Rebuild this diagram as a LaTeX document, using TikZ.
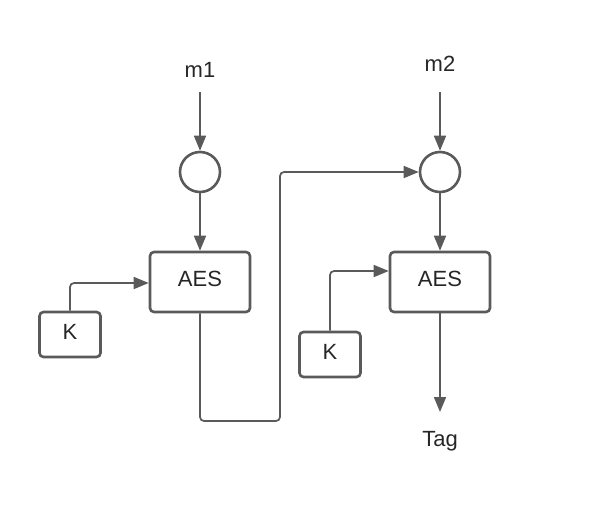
\documentclass[tikz,border=0pt]{standalone}
\usepackage{fontspec}
\setmainfont{Liberation Sans}
\usetikzlibrary{arrows.meta}
\definecolor{ln}{HTML}{5A5A5A}
\begin{document}
\begin{tikzpicture}[x=1pt,y=-1pt,
  box/.style={draw=ln,line width=2.6pt,rounded corners=4pt,inner sep=0pt,text depth=6pt,font=\fontsize{22}{26}\selectfont,text=black!85},
  circ/.style={draw=ln,line width=2.6pt,circle,minimum size=40pt,inner sep=0pt},
  lbl/.style={font=\fontsize{22}{26}\selectfont,text=black!85,inner sep=0pt},
  conn/.style={draw=ln,line width=1.7pt,rounded corners=4pt,-{Triangle[length=15pt,width=12pt]}}]
\useasboundingbox (0,0) rectangle (600,512);
\node[lbl] (m1) at (200,70) {m1};
\node[lbl] (m2) at (440,64) {m2};
\node[circ] (c1) at (200,172) {};
\node[circ] (c2) at (440,172) {};
\node[box,minimum width=100pt,minimum height=60pt] (aes1) at (200,282) {AES};
\node[box,minimum width=100pt,minimum height=60pt] (aes2) at (440,282) {AES};
\node[box,minimum width=61pt,minimum height=45pt] (k1) at (70,334.5) {K};
\node[box,minimum width=61pt,minimum height=45pt] (k2) at (330,354.5) {K};
\node[lbl] (tag) at (440,441) {Tag};
\coordinate (m1s) at (200,92);
\coordinate (m2s) at (440,92);
\coordinate (tagE) at (440,412);
\draw[conn] (m1s) -- (c1.north);
\draw[conn] (m2s) -- (c2.north);
\draw[conn] (c1.south) -- (aes1.north);
\draw[conn] (c2.south) -- (aes2.north);
\draw[conn] (k1.north) |- (aes1.west |- 0,283);
\draw[conn] (k2.north) |- (aes2.west |- 0,271);
\draw[conn] (aes1.south) -- (200,421) -- (280,421) -- (280,172) -- (c2.west);
\draw[conn] (aes2.south) -- (tagE);
\end{tikzpicture}
\end{document}
